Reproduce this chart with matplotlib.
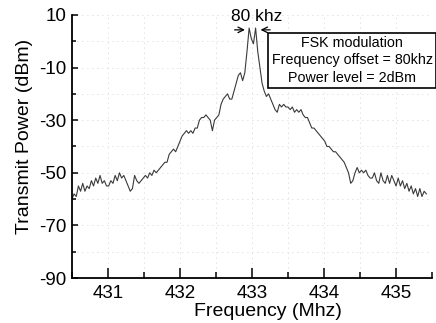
import numpy as np
import matplotlib
matplotlib.use("Agg")
import matplotlib.pyplot as plt

plt.rcParams['font.family'] = ['Liberation Sans', 'DejaVu Sans']
plt.rcParams['axes.unicode_minus'] = False

# Sweep grid (MHz)
freq_start = 430.50
freq_step = 0.03

power = [
    -60, -58, -59, -55, -57, -54, -57, -55, -56, -53,
    -55, -52, -54, -51, -54, -53, -55, -55, -53, -54,
    -51, -53, -50, -52, -51, -53, -55, -57, -56, -51,
    -53, -54, -53, -52, -51, -52, -50, -51, -49, -50,
    -49, -48, -47, -46, -46, -43, -42, -41, -42, -40,
    -38, -36, -35, -34, -35, -34, -35, -33, -33, -30,
    -29, -29, -28, -29, -30, -34, -30, -29, -28, -24,
    -22, -21, -20, -22, -22, -19, -16, -13, -12, -15,
    -12, -4, 5, 1, -1, 5, -4, -10, -16, -19,
    -21, -20, -22, -24, -26, -27, -24, -25, -24, -25,
    -25, -26, -25, -27, -26, -27, -26, -28, -29, -29,
    -31, -33, -33, -34, -35, -36, -37, -38, -40, -40,
    -41, -42, -42, -43, -44, -45, -46, -48, -50, -54,
    -53, -50, -48, -50, -49, -50, -49, -51, -52, -52,
    -50, -53, -54, -50, -53, -54, -51, -54, -51, -53,
    -55, -52, -55, -53, -56, -54, -57, -55, -58, -56,
    -59, -56, -59, -57, -58,
]
freq = freq_start + freq_step * np.arange(len(power))

x_major = [431, 432, 433, 434, 435]
x_minor = [430.5, 431.5, 432.5, 433.5, 434.5, 435.5]
y_major = [10, -10, -30, -50, -70, -90]
y_minor = [0, -20, -40, -60, -80]

fig = plt.figure(figsize=(4.36, 3.23), dpi=100)
ax = fig.add_axes([0.165, 0.139, 0.826, 0.815])

ax.plot(freq, power, color='#3a3a3a', lw=0.8)

ax.set_xlim(430.5, 435.5)
ax.set_ylim(-90, 10)
ax.set_xticks(x_major)
ax.set_xticks(x_minor, minor=True)
ax.set_yticks(y_major)
ax.set_yticks(y_minor, minor=True)
ax.set_xticklabels([str(v) for v in x_major])
ax.set_yticklabels([str(v) for v in y_major])

ax.tick_params(axis='both', which='both', direction='in', labelsize=13.5, width=1.1)
ax.tick_params(axis='x', which='major', length=7, pad=5)
ax.tick_params(axis='x', which='minor', length=4)
ax.tick_params(axis='y', which='major', length=4, pad=4)
ax.tick_params(axis='y', which='minor', length=3)

for s in ['top', 'right']:
    ax.spines[s].set_visible(False)
for s in ['left', 'bottom']:
    ax.spines[s].set_linewidth(1.3)

ax.grid(True, which='both', color='#c4c4c4', linestyle=(0, (1, 5)), lw=0.6)
ax.set_axisbelow(True)

ax.set_xlabel('Frequency (Mhz)', fontsize=14)
ax.set_ylabel('Transmit Power (dBm)', fontsize=14)
ax.xaxis.set_label_coords(0.545, -0.093)
ax.yaxis.set_label_coords(-0.108, 0.54)

# 80 kHz annotation
ax.text(433.06, 9.5, '80 khz', fontsize=12.5, ha='center', va='center')
ax.annotate('', xy=(432.94, 4.3), xytext=(432.72, 4.3),
            arrowprops=dict(arrowstyle='->', color='black', lw=0.9))
ax.annotate('', xy=(433.08, 4.3), xytext=(433.29, 4.3),
            arrowprops=dict(arrowstyle='->', color='black', lw=0.9))

ax.text(434.39, -7.3, 'FSK modulation\nFrequency offset = 80khz\nPower level = 2dBm',
        fontsize=10.3, ha='center', va='center', linespacing=1.3, clip_on=False,
        bbox=dict(boxstyle='square,pad=0.25', facecolor='white', edgecolor='black', lw=1.2))

fig.savefig('out.png', dpi=100)
